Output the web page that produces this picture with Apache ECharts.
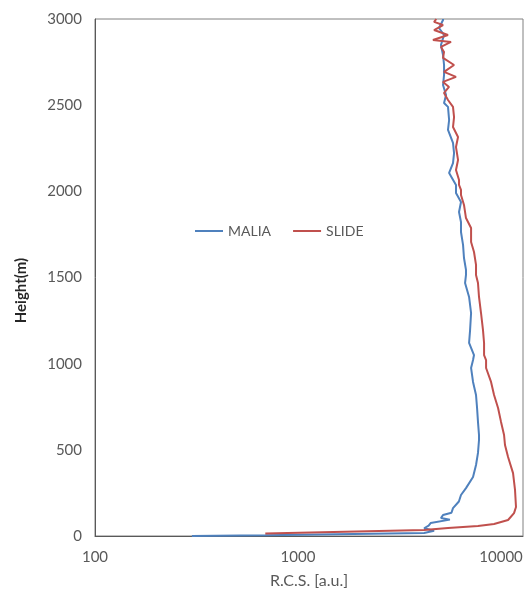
<!doctype html>
<html lang="en">
  <head>
    <meta charset="utf-8">
    <title>MALIA / SLIDE RCS profile</title>
    <script src="https://cdn.jsdelivr.net/npm/echarts@6.0.0/dist/echarts.min.js"></script>
    <style>
      html, body { margin: 0; padding: 0; background: #fff; }
      #chart { width: 528px; height: 595px; }
    </style>
  </head>
  <body>
    <div id="chart"></div>
    <script>
    // heights (m) and range corrected signal (a.u.)
    var maliaHeight = [0, 4, 17, 30, 45, 60, 75, 95, 104, 122, 135, 162, 200, 238, 278, 342, 412, 482, 557, 586,
      662, 743, 818, 894, 975, 1021, 1050, 1120, 1195, 1294, 1387, 1468, 1515, 1544, 1613, 1689, 1764, 1822, 1880, 1938,
      1990, 2037, 2048, 2107, 2164, 2222, 2281, 2356, 2414, 2490, 2513, 2559, 2617, 2675, 2733, 2791, 2849, 2907, 2948, 2994, 3000];
    var maliaRcs = [300, 690, 4180, 4680, 4180, 4400, 4500, 5600, 5060, 5180, 5700, 5800, 6200, 6350, 6720, 7280, 7530, 7700, 7790, 7790,
      7700, 7620, 7530, 7280, 7120, 7280, 7360, 6960, 7040, 7120, 6960, 6650, 6720, 6720, 6570, 6500, 6350, 6350, 6210, 6350,
      6000, 6000, 6000, 5550, 5800, 5870, 5800, 5480, 5550, 5480, 5240, 5360, 5180, 5240, 5240, 5180, 5060, 5240, 4950, 5180, 5180];

    var slideHeight = [15, 35, 46, 58, 70, 93, 133, 168, 267, 365, 458, 528, 586, 662, 743, 818, 894, 975, 1021, 1050,
      1120, 1195, 1294, 1387, 1468, 1515, 1573, 1648, 1706, 1787, 1845, 1921, 1979, 2008, 2037, 2066, 2124, 2182, 2257, 2315,
      2373, 2431, 2490, 2530, 2571, 2606, 2635, 2664, 2693, 2733, 2774, 2809, 2838, 2867, 2878, 2907, 2936, 2965, 2983, 3000];
    var slideRcs = [690, 4180, 5480, 7700, 9240, 10830, 11590, 11850, 11720, 11460, 10830, 10460, 10350, 10000, 9670, 9240, 8930, 8440, 8440, 8250,
      8250, 8150, 7970, 7790, 7700, 7530, 7530, 7360, 7120, 7120, 6720, 6570, 6350, 6350, 6210, 6210, 6000, 6140, 6000, 6140,
      5800, 5870, 5800, 5480, 5240, 5545, 5180, 6000, 5240, 5870, 5180, 5240, 5060, 5670, 4620, 5480, 4680, 5180, 4680, 4800];

    var seriesNames = ['MALIA', 'SLIDE'];
    var seriesColors = ['#4f81bd', '#c0504d'];

    function pairs(xs, ys) {
      var out = [];
      for (var i = 0; i < xs.length; i++) out.push([xs[i], ys[i]]);
      return out;
    }

    var chart = echarts.init(document.getElementById('chart'), null, { renderer: 'canvas' });
    var txt = '#595959';
    var font = 'Lato';

    var option = {
      animation: false,
      textStyle: { fontFamily: font },
      grid: { left: 95, right: 5, top: 19, bottom: 59, show: true, borderColor: '#808080', borderWidth: 1 },
      legend: {
        left: 190, top: 219,
        icon: 'rect', itemWidth: 28, itemHeight: 2, itemGap: 22,
        textStyle: { color: txt, fontSize: 14, fontFamily: font },
        data: seriesNames
      },
      xAxis: {
        type: 'log', logBase: 10, min: 100, max: 12830,
        name: 'R.C.S. [a.u.]', nameLocation: 'middle', nameGap: 37,
        nameTextStyle: { color: txt, fontSize: 16, fontFamily: font },
        axisLine: { show: true, lineStyle: { color: '#595959', width: 1 } },
        axisTick: { show: false },
        axisLabel: { color: txt, fontSize: 15, margin: 14, showMaxLabel: false,
          formatter: function (v) { return String(Math.round(v)); } },
        splitLine: { show: false }
      },
      yAxis: {
        type: 'value', min: 0, max: 3000, interval: 500,
        name: 'Height(m)', nameLocation: 'middle', nameGap: 66, nameRotate: 90,
        nameTextStyle: { color: '#262626', fontSize: 15, fontWeight: 'bold', fontFamily: font, padding: [0, 26, 0, 0] },
        axisLine: { show: true, lineStyle: { color: '#595959', width: 1 } },
        axisTick: { show: false },
        axisLabel: { color: txt, fontSize: 15, margin: 13,
          formatter: function (v) { return String(v); } },
        splitLine: { show: false }
      },
      series: [
        {
          name: seriesNames[0], type: 'line', showSymbol: false,
          color: seriesColors[0], lineStyle: { width: 2 },
          data: pairs(maliaRcs, maliaHeight)
        },
        {
          name: seriesNames[1], type: 'line', showSymbol: false,
          color: seriesColors[1], lineStyle: { width: 2 },
          data: pairs(slideRcs, slideHeight)
        }
      ]
    };

    chart.setOption(option);
    </script>
  </body>
</html>
